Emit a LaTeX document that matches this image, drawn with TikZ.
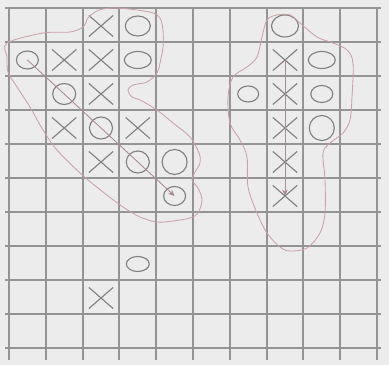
\documentclass[tikz,border=0pt]{standalone}
\usepackage{tikz}
\usepackage{xcolor}
\usetikzlibrary{shapes.geometric, shapes.misc, arrows.meta}
\definecolor{cPaper}{RGB}{236,236,236}
\definecolor{cGrid}{RGB}{148,148,148}
\definecolor{cMark}{RGB}{128,128,128}
\definecolor{cPink}{RGB}{205,160,168}
\tikzset{
	gridline/.style ={draw=cGrid, line width=1.3pt},
	xmark/.style    ={cross out, draw=cMark, line width=0.8pt, minimum width=0.58cm, minimum height=0.5cm, inner sep=0pt},
	omark/.style    ={ellipse, draw=cMark, line width=0.8pt, minimum width=0.57cm, minimum height=0.47cm, inner sep=0pt},
	blob/.style     ={draw=cPink, line width=0.6pt},
	movearrow/.style={-{Stealth[length=1.6mm, width=1.4mm]}, draw=cPink!85!black, line width=0.6pt},
}

\begin{document}
\begin{tikzpicture}[x=0.025cm, y=-0.025cm]
	\fill[cPaper] (0,0) rectangle (389,365);
	% grid, 10 x 10 cells
	\foreach \i in {0,...,10} {
		\draw[gridline] ({9+36.8*\i},8) -- ({9+36.8*\i},360);
		\draw[gridline] (5,{8+34*\i}) -- (381,{8+34*\i});
	}
	\foreach \c in {0,...,9}
		\foreach \r in {0,...,9}
			\coordinate (p\c\r) at ({27.4+36.8*\c},{26+34*\r});
	% crosses
	\foreach \cell in {20, 11, 21, 22, 13, 33, 24, 71, 72, 73, 74, 75, 28}
		\node[xmark] (x\cell) at (p\cell) {};
	% noughts, size in px
	\foreach \cell/\w/\h in {30/25/20, 01/22/18, 31/27/17, 12/23/21, 23/23/22, 34/23/22, 44/25/25, 45/22/19, 70/27/22, 81/27/17, 62/21/16, 82/22/17, 83/25/25, 37/23/15}
		\node[omark, minimum width=\w*0.025cm, minimum height=\h*0.025cm] (o\cell) at (p\cell) {};
	% the two groups
	\draw[blob] plot[smooth cycle, tension=0.55] coordinates {
		(7,43) (43,33) (70,32) (83,27) (88,18) (95,12) (103,9) (117,8) (137,10) (153,13)
		(160,18) (163,30) (163,47) (160,63) (157,73) (147,82) (133,85) (128,90) (132,97)
		(140,100) (157,110) (173,123) (190,137) (199,153) (200,163) (195,172) (192,180)
		(198,188) (202,200) (198,213) (190,218) (173,221) (157,222) (140,217) (123,207)
		(103,192) (80,173) (57,150) (43,130) (30,107) (17,87) (8,72) (7,57)};
	\draw[blob] plot[smooth cycle, tension=0.55] coordinates {
		(267,20) (277,15) (290,15) (300,23) (317,37) (333,43) (347,50) (353,63) (352,97)
		(350,120) (343,133) (330,143) (323,153) (325,180) (325,213) (320,233) (307,248)
		(290,251) (280,247) (267,233) (257,213) (248,187) (247,157) (240,140) (230,123)
		(228,97) (233,77) (247,67) (257,57) (262,37)};
	% moves
	\draw[movearrow] (o01.center) -- (o45.center);
	\draw[movearrow] (x71.center) -- (x75.center);
\end{tikzpicture}
\end{document}
